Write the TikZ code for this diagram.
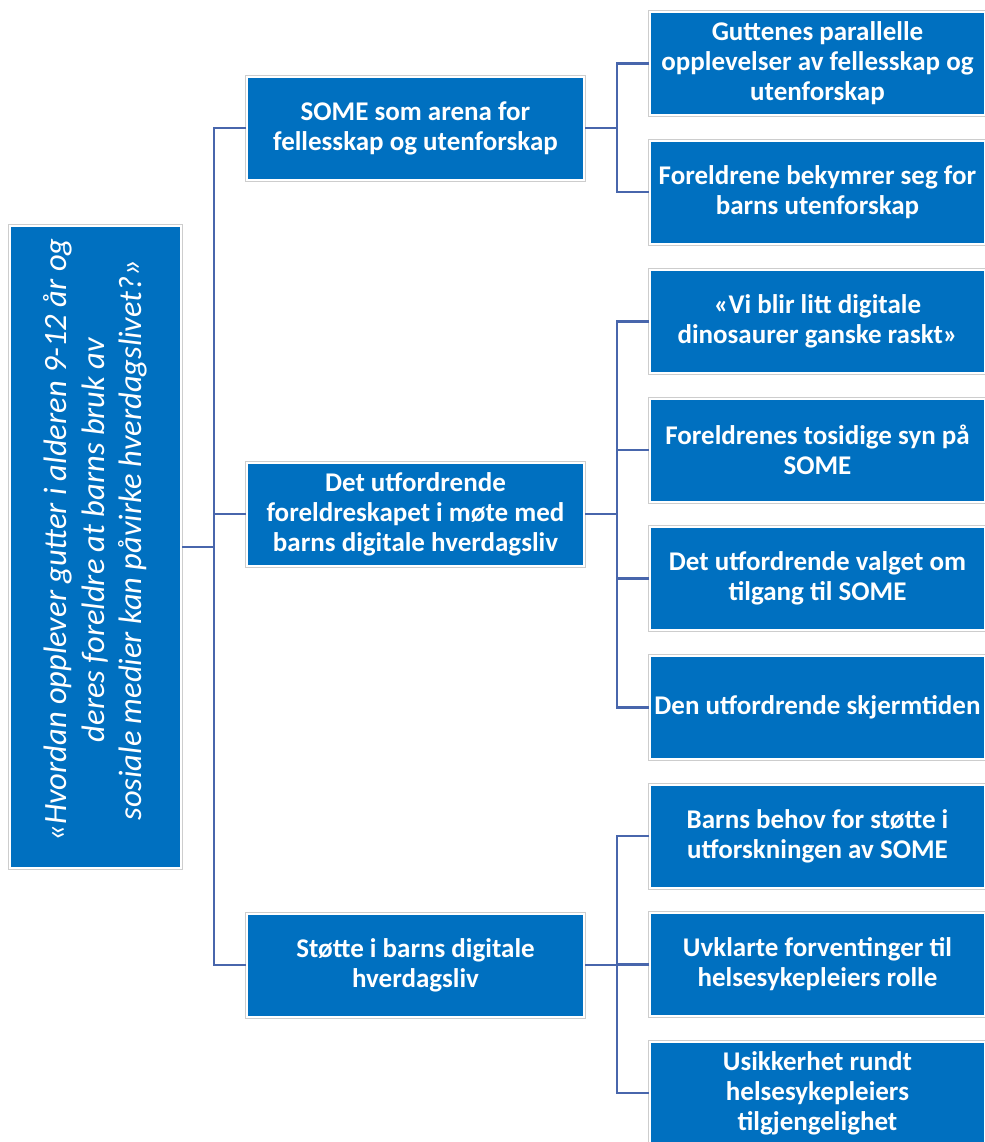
\documentclass[tikz,border=0pt]{standalone}
\usepackage{fontspec}
\setmainfont{Carlito}
\definecolor{boxblue}{RGB}{0,112,192}
\definecolor{bordergray}{RGB}{205,205,205}
\definecolor{linkblue}{RGB}{72,102,172}
\tikzset{
  box/.style={rectangle, fill=boxblue, draw=white, line width=2bp,
    preaction={draw=bordergray, line width=4bp},
    text=white, align=center, inner sep=0pt,
    font=\fontsize{27bp}{30bp}\selectfont\bfseries},
  midbox/.style={box, minimum width=337bp, minimum height=103bp},
  rightbox/.style={box, minimum width=335bp, minimum height=103bp},
  link/.style={draw=linkblue, line width=2.5bp}
}
\begin{document}
\begin{tikzpicture}[x=1bp,y=-1bp]
\useasboundingbox (0,0) rectangle (985,1142);
\clip (0,0) rectangle (985,1142);
\node[box, minimum width=171bp, minimum height=642bp] (L) at (95.5,547) {};
\node[text=white, align=center, rotate=90, font=\fontsize{32.5bp}{37.5bp}\selectfont\itshape] (Lt) at (95.5,540)
  {«Hvordan opplever gutter i alderen 9-12 år og\\deres foreldre at barns bruk av\\sosiale medier kan påvirke hverdagslivet?»};
\node[midbox] (m1) at (415.5,128) {SOME som arena for\\fellesskap og utenforskap};
\node[midbox] (m2) at (415.5,514) {Det utfordrende\\foreldreskapet i møte med\\barns digitale hverdagsliv};
\node[midbox] (m3) at (415.5,965) {Støtte i barns digitale\\hverdagsliv};
\node[rightbox] (r1) at (817.5,63.5) {Guttenes parallelle\\opplevelser av fellesskap og\\utenforskap};
\node[rightbox] (r2) at (817.5,192) {Foreldrene bekymrer seg for\\barns utenforskap};
\node[rightbox] (r3) at (817.5,321.5) {«Vi blir litt digitale\\dinosaurer ganske raskt»};
\node[rightbox] (r4) at (817.5,450) {Foreldrenes tosidige syn på\\SOME};
\node[rightbox] (r5) at (817.5,578.5) {Det utfordrende valget om\\tilgang til SOME};
\node[rightbox] (r6) at (817.5,707.5) {Den utfordrende skjermtiden};
\node[rightbox] (r7) at (817.5,836) {Barns behov for støtte i\\utforskningen av SOME};
\node[rightbox] (r8) at (817.5,964.5) {Uvklarte forventinger til\\helsesykepleiers rolle};
\node[rightbox] (r9) at (817.5,1093) {Usikkerhet rundt\\helsesykepleiers\\tilgjengelighet};
\coordinate (j0) at (214,547);
\coordinate (j1) at (617,128);
\coordinate (j2) at (617,514);
\coordinate (j3) at (617,965);
\draw[link] (L.east) -- (j0);
\draw[link] (m1.west) -| (j0) |- (m3.west);
\draw[link] (m2.west) -- (m2.west -| j0);
\draw[link] (m1.east) -- (j1);
\draw[link] (r1.west) -| (j1) |- (r2.west);
\draw[link] (m2.east) -- (j2);
\draw[link] (r3.west) -| (j2) |- (r6.west);
\draw[link] (r4.west) -- (r4.west -| j2);
\draw[link] (r5.west) -- (r5.west -| j2);
\draw[link] (m3.east) -- (j3);
\draw[link] (r7.west) -| (j3) |- (r9.west);
\draw[link] (r8.west) -- (r8.west -| j3);
\end{tikzpicture}
\end{document}
